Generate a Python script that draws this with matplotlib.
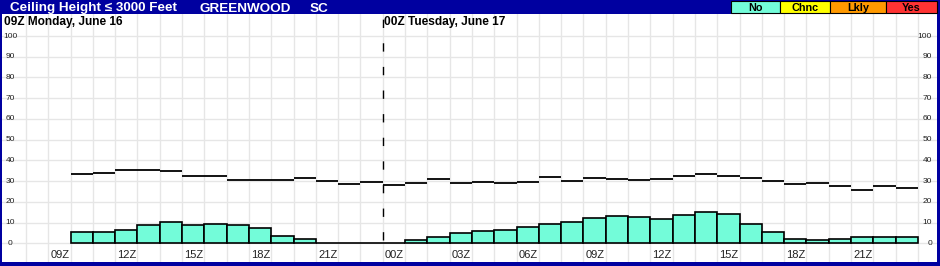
import matplotlib
matplotlib.use('Agg')
import matplotlib.pyplot as plt
import numpy as np
from matplotlib.patches import Rectangle

plt.rcParams['font.family'] = ['Liberation Sans', 'DejaVu Sans']

# hour offsets from 00Z Monday, one bar per hour (10Z Mon .. 23Z Tue)
hours = np.arange(10, 48)

# probability of ceiling <= 3000 ft (%)
prob_pct = [5.3, 5.3, 6.3, 8.7, 10.1, 8.7, 9.3, 8.7, 7.2, 3.4, 1.9, 0, 0, 0,
            0, 1.6, 2.9, 4.8, 5.9, 6.3, 7.7, 9.1, 10.1, 12.0, 13.0, 12.5,
            11.6, 13.5, 14.9, 14.0, 9.1, 5.3, 1.9, 1.4, 1.9, 2.9, 2.9, 2.9]

# climatology / reference line (%)
climo_pct = [33.2, 33.7, 35.2, 35.2, 34.7, 32.7, 32.3, 30.3, 30.3, 30.3, 31.3, 29.9, 28.4, 29.4,
             27.9, 28.9, 30.8, 28.9, 29.4, 28.9, 29.4, 31.8, 29.9, 31.3, 30.8, 30.3,
             30.8, 32.3, 33.2, 32.3, 31.3, 29.9, 28.4, 28.9, 27.4, 25.5, 27.4, 26.5]

tick_hours = [9, 12, 15, 18, 21, 24, 27, 30, 33, 36, 39, 42, 45]
tick_labels = ['09Z', '12Z', '15Z', '18Z', '21Z', '00Z', '03Z', '06Z', '09Z', '12Z', '15Z', '18Z', '21Z']
y_levels = list(range(0, 101, 10))

legend_names = ['No', 'Chnc', 'Lkly', 'Yes']
legend_colors = ['#73fcd9', '#ffff00', '#ff9900', '#ff3333']

W, H = 940, 266
BLUE = '#0000a0'
GRID = '#e6e6e6'

fig = plt.figure(figsize=(W / 100, H / 100), dpi=100, facecolor=BLUE)


def fx(px):
    return px / W


def fy(py):
    return 1 - py / H


# plot area (white) fills the frame below the title bar
ax_l, ax_r, ax_t, ax_b = 2, 937, 14, 262
ax = fig.add_axes([fx(ax_l), fy(ax_b), fx(ax_r - ax_l), fy(ax_t) - fy(ax_b)])
ax.set_facecolor('white')
for s in ax.spines.values():
    s.set_visible(False)
ax.set_xticks([])
ax.set_yticks([])

px_per_hr = 22.3
x0_px = 382.7  # 00Z Tuesday
ax.set_xlim(24 - (x0_px - ax_l) / px_per_hr, 24 + (ax_r - x0_px) / px_per_hr)
px_per_unit = 2.073
y0_px = 243.3
ax.set_ylim(-(ax_b - y0_px) / px_per_unit, (y0_px - ax_t) / px_per_unit)
ylo, ytop = ax.get_ylim()

for h in range(8, 49):
    ax.axvline(h, color=GRID, lw=1, zorder=0)
for v in y_levels:
    ax.axhline(v, color=GRID, lw=1, zorder=0)

ax.bar(hours, prob_pct, width=1, align='edge', color=legend_colors[0],
       edgecolor='black', linewidth=1.2, zorder=2)
ax.hlines(climo_pct, hours, hours + 1, color='black', lw=1.3, zorder=3)

# day boundary
ax.vlines(24, 1.5, ytop, color='black', lw=1, linestyles=(0, (6, 11)), zorder=3)

for h, lab in zip(tick_hours, tick_labels):
    ax.text(h + 0.1, ylo + 0.9, lab, fontsize=8, ha='left', va='bottom', color='#222222')

ytr = ax.get_yaxis_transform()
for v in y_levels:
    ax.text((10.5 - ax_l) / (ax_r - ax_l), v, str(v), transform=ytr,
            fontsize=6, ha='center', va='center', color='#222222')
    ax.text((932 - ax_l) / (ax_r - ax_l), v, str(v), transform=ytr,
            fontsize=6, ha='right', va='center', color='#222222')

fig.text(fx(4), fy(25.5), '09Z Monday, June 16', fontsize=8.6, fontweight='bold',
         ha='left', va='baseline')
fig.text(fx(384), fy(25.5), '00Z Tuesday, June 17', fontsize=8.6, fontweight='bold',
         ha='left', va='baseline')

# title bar
for x_px, txt in [(10, 'Ceiling Height \u2264 3000 Feet'), (200, 'GREENWOOD'), (310, 'SC')]:
    fig.text(fx(x_px), fy(11.5), txt, color='white', fontsize=9.7,
             fontweight='bold', ha='left', va='baseline')

box_edges = [731, 780, 830, 885.5, 937]
for i, (name, col) in enumerate(zip(legend_names, legend_colors)):
    x_a, x_b = box_edges[i], box_edges[i + 1]
    fig.add_artist(Rectangle((fx(x_a), fy(13)), fx(x_b - x_a), fy(1) - fy(13),
                             transform=fig.transFigure, facecolor=col,
                             edgecolor='black', lw=0.8))
    fig.text(fx((x_a + x_b) / 2), fy(11), name, fontsize=7.8, fontweight='bold',
             ha='center', va='baseline')

fig.savefig('out.png', dpi=100, facecolor=BLUE)
